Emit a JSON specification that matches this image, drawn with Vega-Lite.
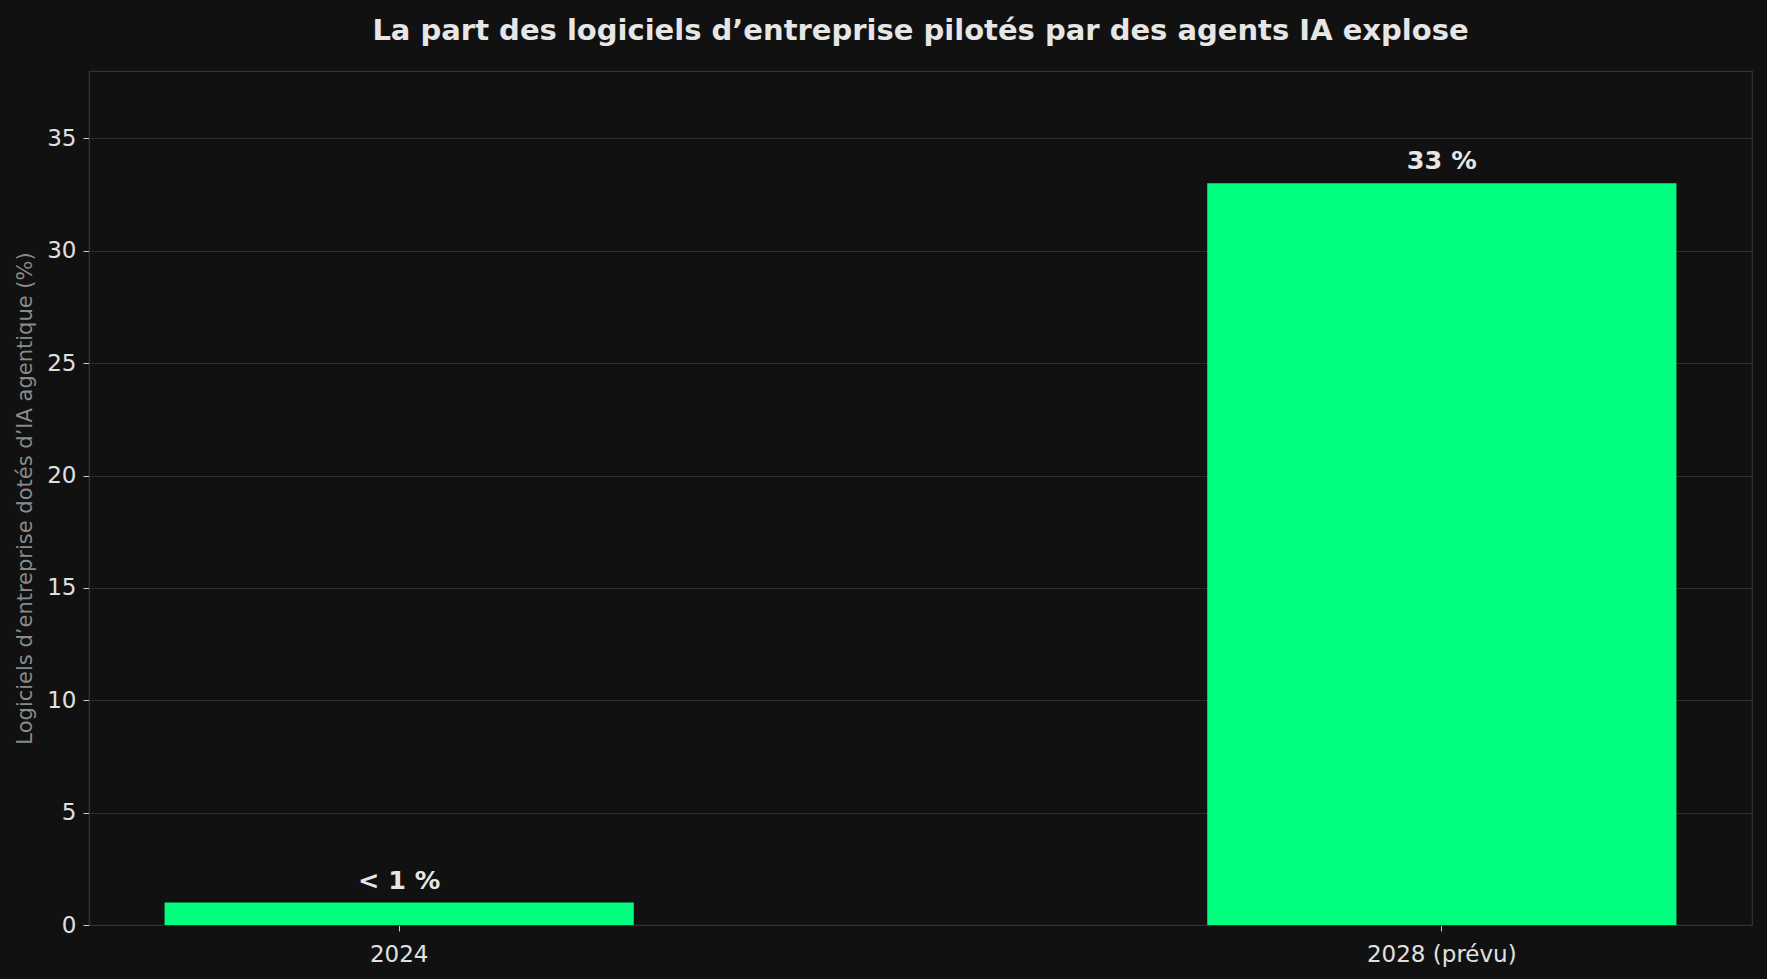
{
  "$schema": "https://vega.github.io/schema/vega-lite/v6.json",
  "autosize": "none",
  "width": 1663,
  "height": 854,
  "padding": {"left": 89, "top": 71, "right": 15, "bottom": 54},
  "background": "#111111",
  "title": {
    "text": "La part des logiciels d’entreprise pilotés par des agents IA explose",
    "font": "DejaVu Sans",
    "fontSize": 29,
    "fontWeight": "bold",
    "color": "#e6e6e6",
    "anchor": "middle",
    "frame": "group",
    "baseline": "alphabetic",
    "offset": 2
  },
  "config": {
    "view": {"stroke": "#333333", "strokeWidth": 1.2},
    "font": "DejaVu Sans"
  },
  "data": {
    "values": [
      {"year": "2024", "share": 1, "label": "< 1 %"},
      {"year": "2028 (prévu)", "share": 33, "label": "33 %"}
    ]
  },
  "encoding": {
    "x": {
      "field": "year",
      "type": "nominal",
      "sort": null,
      "scale": {"paddingInner": 0.55, "paddingOuter": 0.0725},
      "axis": {
        "title": null,
        "labelAngle": 0,
        "labelFont": "DejaVu Sans",
        "labelFontSize": 23,
        "labelColor": "#e0e0e0",
        "labelPadding": 12,
        "tickColor": "#cccccc",
        "tickSize": 6,
        "domainColor": "#333333",
        "grid": false
      }
    },
    "y": {
      "field": "share",
      "type": "quantitative",
      "scale": {"domain": [0, 38], "nice": false},
      "axis": {
        "title": "Logiciels d’entreprise dotés d’IA agentique (%)",
        "titleFont": "DejaVu Sans",
        "titleFontSize": 21,
        "titleFontWeight": "normal",
        "titleColor": "#8a8a8a",
        "titlePadding": 11,
        "values": [0, 5, 10, 15, 20, 25, 30, 35],
        "labelFont": "DejaVu Sans",
        "labelFontSize": 23,
        "labelColor": "#e0e0e0",
        "labelPadding": 7,
        "tickColor": "#cccccc",
        "tickSize": 6,
        "domainColor": "#333333",
        "gridColor": "#2e2e2e",
        "gridWidth": 1.2
      }
    }
  },
  "layer": [
    {
      "mark": {"type": "bar", "color": "#00ff7f"}
    },
    {
      "mark": {
        "type": "text",
        "font": "DejaVu Sans",
        "fontSize": 25.5,
        "fontWeight": "bold",
        "color": "#e6e6e6",
        "baseline": "alphabetic",
        "dy": -14
      },
      "encoding": {"text": {"field": "label"}}
    }
  ]
}
